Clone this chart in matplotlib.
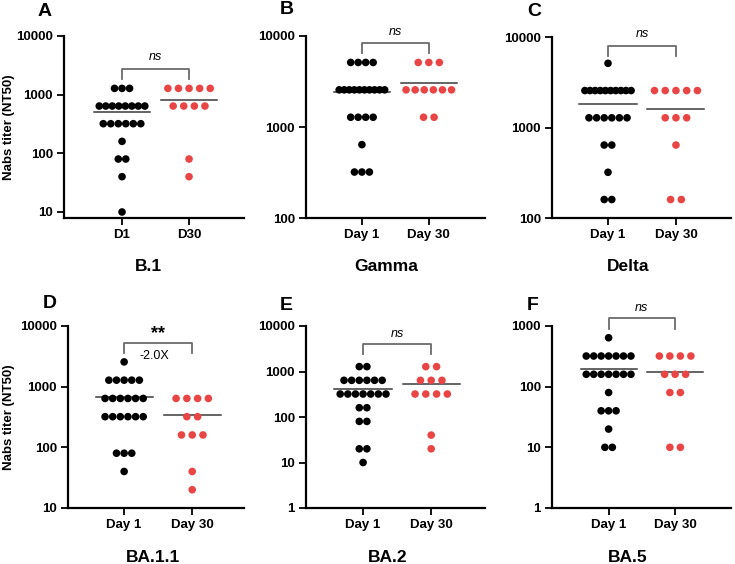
import numpy as np
import matplotlib
matplotlib.use("Agg")
import matplotlib.pyplot as plt
import matplotlib.transforms as mtransforms

plt.rcParams['font.family'] = ['Liberation Sans', 'DejaVu Sans']

# ---------------- data (NT50 titers) ----------------
panel_letters = ["A", "B", "C", "D", "E", "F"]
variants = ["B.1", "Gamma", "Delta", "BA.1.1", "BA.2", "BA.5"]
group_labels_b1 = ["D1", "D30"]
group_labels = ["Day 1", "Day 30"]
significance = ["ns", "ns", "ns", "**", "ns", "ns"]
fold_text = ["", "", "", "-2.0X", "", ""]

b1_d1 = [1280, 1280, 1280, 640, 640, 640, 640, 640, 640, 640, 640,
         320, 320, 320, 320, 320, 320, 160, 80, 80, 40, 10]
b1_d30 = [1280, 1280, 1280, 1280, 1280, 640, 640, 640, 640, 80, 40]
gamma_d1 = [5120, 5120, 5120, 5120, 2560, 2560, 2560, 2560, 2560, 2560, 2560,
            2560, 2560, 2560, 1280, 1280, 1280, 1280, 640, 320, 320, 320]
gamma_d30 = [5120, 5120, 5120, 2560, 2560, 2560, 2560, 2560, 2560, 1280, 1280]
delta_d1 = [5120, 2560, 2560, 2560, 2560, 2560, 2560, 2560, 2560, 2560, 2560,
            1280, 1280, 1280, 1280, 1280, 1280, 640, 640, 320, 160, 160]
delta_d30 = [2560, 2560, 2560, 2560, 2560, 1280, 1280, 1280, 640, 160, 160]
ba11_d1 = [2560, 1280, 1280, 1280, 1280, 1280, 640, 640, 640, 640, 640, 640,
           320, 320, 320, 320, 320, 320, 80, 80, 80, 40]
ba11_d30 = [640, 640, 640, 640, 320, 320, 160, 160, 160, 40, 20]
ba2_d1 = [1280, 1280, 640, 640, 640, 640, 640, 640, 320, 320, 320, 320, 320,
          320, 320, 160, 160, 80, 80, 20, 20, 10]
ba2_d30 = [1280, 1280, 640, 640, 640, 320, 320, 320, 320, 40, 20]
ba5_d1 = [640, 320, 320, 320, 320, 320, 320, 320, 160, 160, 160, 160, 160,
          160, 160, 80, 40, 40, 40, 20, 10, 10]
ba5_d30 = [320, 320, 320, 320, 160, 160, 160, 80, 80, 10, 10]

day1_data = [b1_d1, gamma_d1, delta_d1, ba11_d1, ba2_d1, ba5_d1]
day30_data = [b1_d30, gamma_d30, delta_d30, ba11_d30, ba2_d30, ba5_d30]

y_ranges = [(7.9, 10000), (100, 10000), (100, 10000), (10, 10000), (1, 10000), (1, 1000)]

# ---------------- layout ----------------
W, H = 735, 564
fig = plt.figure(figsize=(W / 100, H / 100), dpi=100)

# pixel boxes: left, right, top, bottom
boxes = [(64, 244, 36, 218), (306, 485, 36, 218), (552, 731, 37, 218),
         (68, 244, 326, 508), (306, 485, 326, 508), (552, 731, 326, 508)]
xlims = [(0.134, 2.82), (0.164, 2.84), (0.176, 2.81),
         (0.176, 2.76), (0.162, 2.79), (0.149, 2.84)]
letter_pos = [(38, 12), (280, 10), (527, 12), (43, 304), (280, 305), (527, 305)]
variant_pos = [(148, 267), (386, 267), (628, 267), (153, 557), (388, 557), (628, 557)]
# bracket geometry in axes fraction: top, drop, sig text y
bracket_y = [(0.819, 0.764, 0.885), (0.962, 0.907, 1.02), (0.95, 0.896, 1.016),
             (0.907, 0.853, 0.96), (0.903, 0.848, 0.958), (1.044, 0.985, 1.10)]

BLACK = "#000000"
RED = "#E94545"
LINE = "#3a3a3a"
GRAY = "#6b6b6b"


def spread(values, base, maxspan):
    vals = np.asarray(values, dtype=float)
    offs = np.zeros_like(vals)
    for v in np.unique(vals):
        idx = np.where(vals == v)[0]
        n = len(idx)
        if n > 1:
            step = min(base, maxspan / (n - 1))
            offs[idx] = (np.arange(n) - (n - 1) / 2) * step
    return offs


for i in range(6):
    l, r, t, b = boxes[i]
    ax = fig.add_axes([l / W, 1 - b / H, (r - l) / W, (b - t) / H])
    ax.set_yscale("log")
    ax.set_ylim(*y_ranges[i])
    ax.set_xlim(*xlims[i])
    for j, (vals, col, base) in enumerate([(day1_data[i], BLACK, 0.112),
                                            (day30_data[i], RED, 0.158)]):
        x0 = j + 1
        offs = spread(vals, base, 0.68)
        ax.scatter(x0 + offs, vals, s=30, color=col, edgecolors="none", zorder=3,
                   clip_on=False)
        m = np.mean(vals)
        ax.plot([x0 - 0.42, x0 + 0.42], [m, m], color=LINE, lw=1.1, zorder=2)

    ax.set_xticks([1, 2])
    ax.set_xticklabels(group_labels_b1 if i == 0 else group_labels,
                       fontsize=9.5, fontweight="bold")
    lo, hi = y_ranges[i]
    ticks = [10.0 ** k for k in range(0, 5) if lo <= 10.0 ** k <= hi]
    ax.set_yticks(ticks)
    ax.set_yticklabels([str(int(tk)) for tk in ticks], fontsize=9.5, fontweight="bold")
    ax.minorticks_off()
    ax.tick_params(axis="both", length=5, width=1.3, pad=3, color="black")
    for s in ["top", "right"]:
        ax.spines[s].set_visible(False)
    for s in ["left", "bottom"]:
        ax.spines[s].set_linewidth(1.6)

    # significance bracket
    tr = mtransforms.blended_transform_factory(ax.transData, ax.transAxes)
    ytop, ydrop, ytxt = bracket_y[i]
    ax.plot([1, 1, 2, 2], [ydrop, ytop, ytop, ydrop], color=GRAY, lw=1.3,
            transform=tr, clip_on=False)
    if significance[i] == "**":
        ax.text(1.5, ytxt, "**", transform=tr, ha="center", va="center",
                fontsize=13, fontweight="bold")
    else:
        ax.text(1.5, ytxt, significance[i], transform=tr, ha="center", va="center",
                fontsize=9, fontstyle="italic")
    if fold_text[i]:
        ax.text(1.45, 0.835, fold_text[i], transform=tr, ha="center", va="center",
                fontsize=9)

    if i in (0, 3):
        ax.set_ylabel("Nabs titer (NT50)", fontsize=9.5, fontweight="bold",
                      va="center")
        ax.yaxis.set_label_coords((9 - l) / (r - l), 0.5)

    lx, ly = letter_pos[i]
    fig.text(lx / W, 1 - ly / H, panel_letters[i], ha="left", va="center",
             fontsize=14, fontweight="bold")
    vx, vy = variant_pos[i]
    fig.text(vx / W, 1 - vy / H, variants[i], ha="center", va="center",
             fontsize=12.5, fontweight="bold")

fig.savefig("out.png", dpi=100)
